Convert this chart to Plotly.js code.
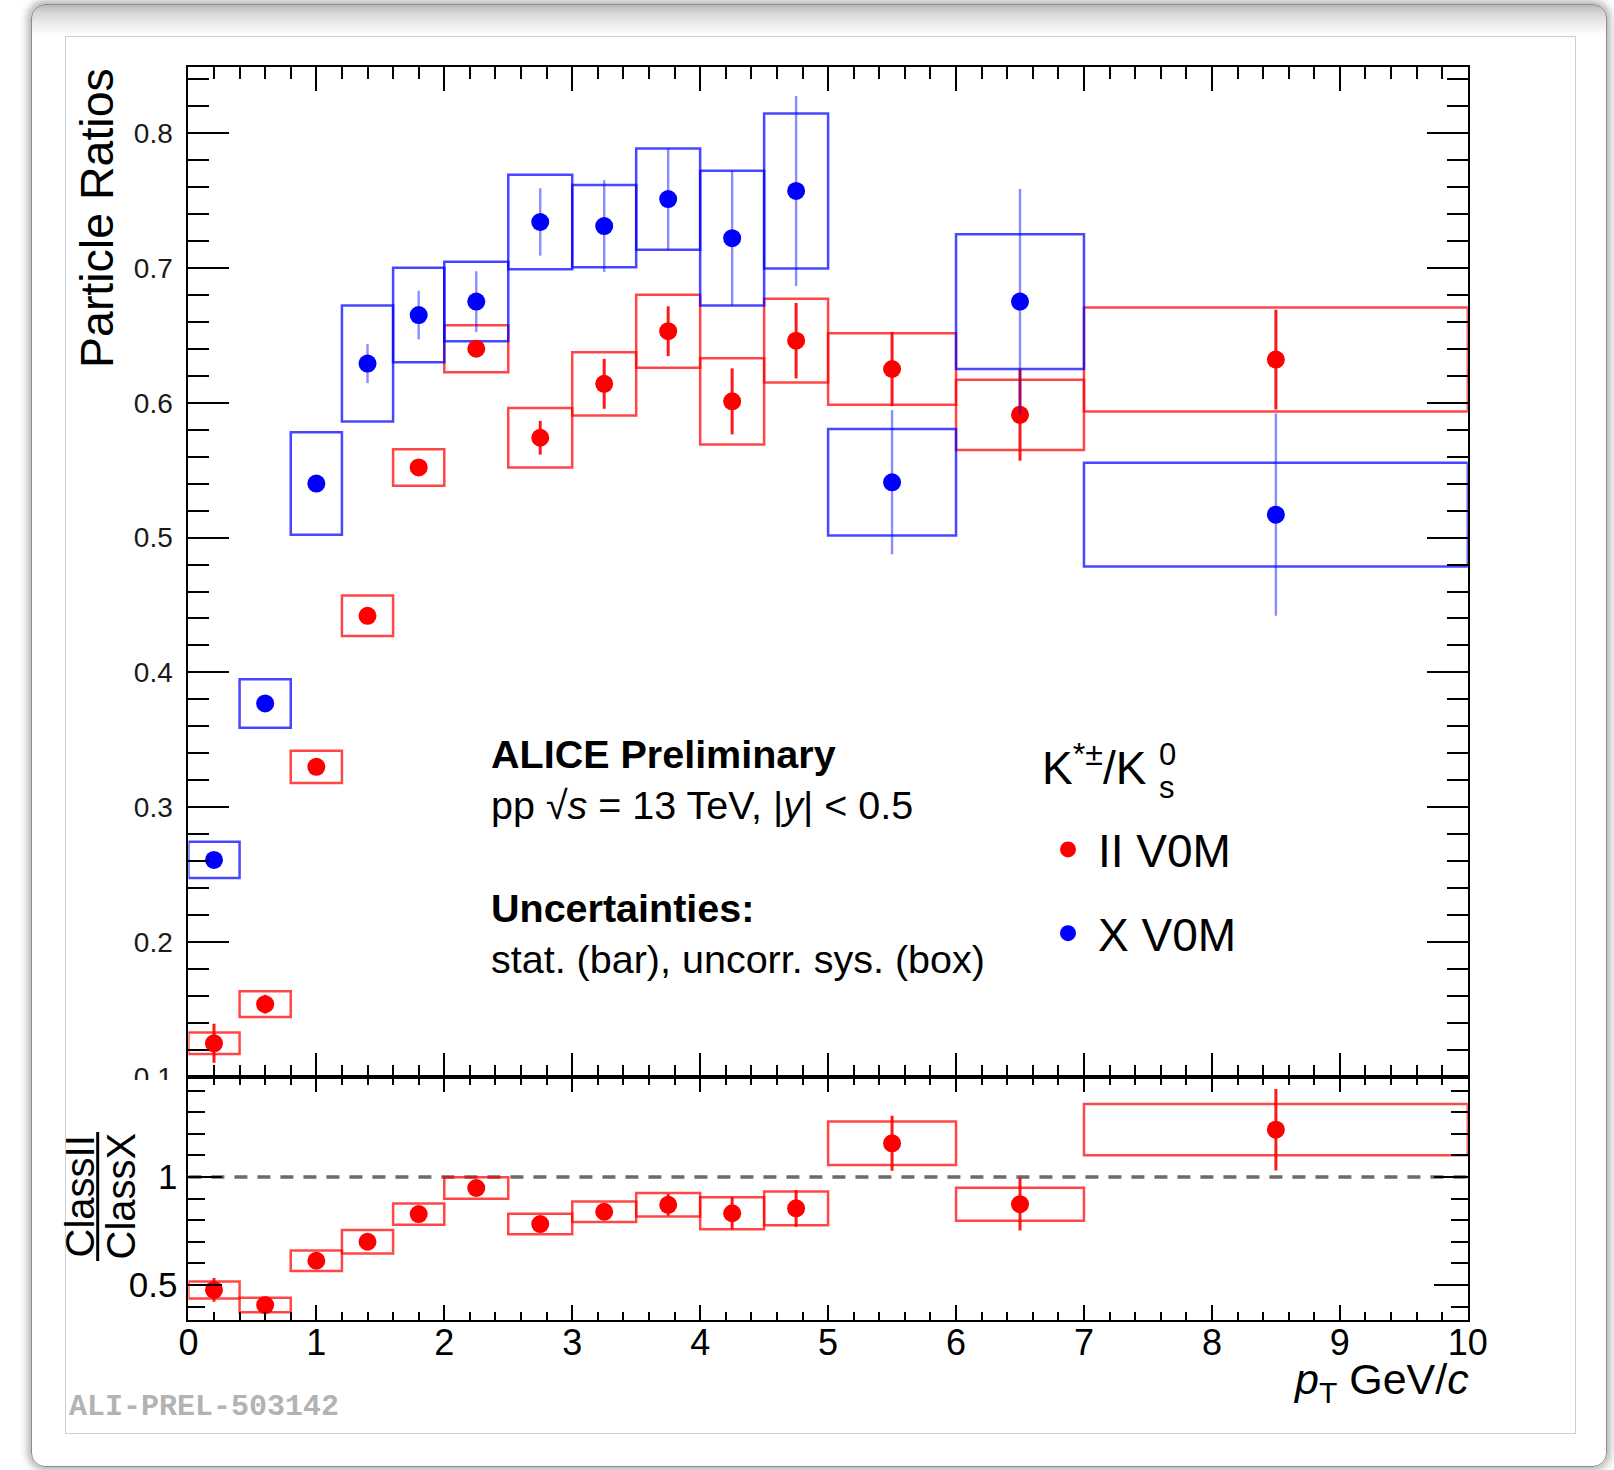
<!DOCTYPE html>
<html>
<head>
<meta charset="utf-8">
<script src="https://cdn.plot.ly/plotly-3.0.1.min.js"></script>
<style>
html,body{margin:0;padding:0;background:#fff;width:1614px;height:1470px;overflow:hidden;}
#win{position:absolute;left:31px;top:4px;width:1576px;height:1463px;border-radius:14px;
  background:linear-gradient(#b8b8b8 0px,#d6d6d6 8px,#ebebeb 18px,#f9f9f9 27px,#ffffff 32px);
  box-shadow:0 0 9px 3px rgba(0,0,0,0.33);border:1px solid #8c8c8c;box-sizing:border-box;}
#inner{position:absolute;left:65px;top:36px;width:1511px;height:1398px;border:1px solid #cfcfcf;box-sizing:border-box;background:#fff;}
#plot{position:absolute;left:0;top:0;width:1614px;height:1470px;}
</style>
</head>
<body>
<div id="win"></div>
<div id="inner"></div>
<div id="plot"></div>
<script>
// ---- data ----
const ptCenter = [0.2, 0.6, 1.0, 1.4, 1.8, 2.25, 2.75, 3.25, 3.75, 4.25, 4.75, 5.5, 6.5, 8.5];
const binLow   = [0.0, 0.4, 0.8, 1.2, 1.6, 2.0, 2.5, 3.0, 3.5, 4.0, 4.5, 5.0, 6.0, 7.0];
const binHigh  = [0.4, 0.8, 1.2, 1.6, 2.0, 2.5, 3.0, 3.5, 4.0, 4.5, 5.0, 6.0, 7.0, 10.0];

// Class II V0M (red)
const valII  = [0.125, 0.154, 0.330, 0.442, 0.552, 0.640, 0.574, 0.614, 0.653, 0.601, 0.646, 0.625, 0.591, 0.632];
const statII = [0.0145, 0.007, 0.004, 0.004, 0.004, 0.005, 0.0125, 0.0185, 0.0185, 0.0245, 0.028, 0.0275, 0.034, 0.037];
const sysII  = [0.008, 0.0095, 0.012, 0.015, 0.0135, 0.0175, 0.022, 0.0235, 0.027, 0.032, 0.031, 0.0265, 0.026, 0.0385];

// Class X V0M (blue)
const valX  = [0.261, 0.377, 0.540, 0.629, 0.665, 0.675, 0.734, 0.731, 0.751, 0.722, 0.757, 0.541, 0.675, 0.517];
const statX = [0.003, 0.003, 0.004, 0.0145, 0.018, 0.0225, 0.025, 0.034, 0.0375, 0.05, 0.0705, 0.0535, 0.0835, 0.075];
const sysX  = [0.0135, 0.018, 0.038, 0.043, 0.035, 0.0295, 0.035, 0.0305, 0.0375, 0.05, 0.0575, 0.0395, 0.05, 0.0385];

// Ratio Class II / Class X
const valR  = [0.477, 0.407, 0.612, 0.700, 0.828, 0.949, 0.782, 0.839, 0.871, 0.832, 0.855, 1.156, 0.874, 1.219];
const statR = [0.055, 0.01, 0.01, 0.01, 0.01, 0.012, 0.015, 0.02, 0.05, 0.075, 0.085, 0.127, 0.122, 0.189];
const sysR  = [0.0395, 0.0335, 0.0475, 0.054, 0.049, 0.05, 0.0475, 0.0475, 0.0545, 0.0745, 0.078, 0.1005, 0.0765, 0.1185];

const refValue = 1;
const xRange = [0, 10];
const yRangeTop = [0.1, 0.849];
const yRangeBot = [0.34, 1.463];
const seriesNames = ['II V0M', 'X V0M'];

// ---- helpers ----
const W = 1614, H = 1470;
const px = X => X / W;
const py = Y => 1 - Y / H;
const widths = binHigh.map((h, i) => h - binLow[i]);

function boxTrace(vals, sys, color, xa, ya) {
  return {
    type: 'bar', x: ptCenter, y: sys.map(s => 2 * s), base: vals.map((v, i) => v - sys[i]),
    width: widths, xaxis: xa, yaxis: ya, showlegend: false, hoverinfo: 'skip',
    marker: {color: 'rgba(0,0,0,0)', line: {color: color, width: 2.5}}
  };
}
function pointTrace(vals, stat, color, statColor, statW, xa, ya, name, show) {
  return {
    type: 'scatter', mode: 'markers', x: ptCenter, y: vals, xaxis: xa, yaxis: ya,
    name: name, showlegend: show, legendgroup: name,
    marker: {color: color, size: 18, line: {width: 0}},
    error_y: {type: 'data', array: stat, visible: true, width: 0, thickness: statW, color: statColor}
  };
}

const RED = '#ff0000', BLUE = '#0000ff';
const traces = [
  boxTrace(valII, sysII, 'rgba(255,0,0,0.72)', 'x', 'y'),
  pointTrace(valII, statII, RED, 'rgba(255,0,0,0.9)', 3, 'x', 'y', seriesNames[0], true),
  boxTrace(valX, sysX, 'rgba(0,0,255,0.72)', 'x', 'y'),
  pointTrace(valX, statX, BLUE, 'rgba(0,0,255,0.45)', 2.4, 'x', 'y', seriesNames[1], true),
  boxTrace(valR, sysR, 'rgba(255,0,0,0.72)', 'x2', 'y2'),
  pointTrace(valR, statR, RED, 'rgba(255,0,0,0.9)', 3, 'x2', 'y2', 'ratio', false)
];

const xDom = [px(188.4), px(1467.8)];
const axCommon = {
  showline: true, linewidth: 2, linecolor: '#000', mirror: 'ticks',
  ticks: 'inside', tickwidth: 2, tickcolor: '#000',
  showgrid: false, zeroline: false, fixedrange: true
};
const FONT = 'Liberation Sans, Arial, Helvetica, sans-serif';

const layout = {
  width: W, height: H, margin: {l: 0, r: 0, t: 0, b: 0},
  paper_bgcolor: 'rgba(0,0,0,0)', plot_bgcolor: 'rgba(0,0,0,0)',
  font: {family: FONT, color: '#000'},
  hovermode: false, barmode: 'overlay', showlegend: true,
  xaxis: Object.assign({}, axCommon, {
    domain: xDom, range: xRange, anchor: 'y', tick0: 0, dtick: 1, ticklen: 24,
    minor: {dtick: 0.2, ticklen: 12, tickwidth: 2, tickcolor: '#000', ticks: 'inside'},
    showticklabels: false
  }),
  yaxis: Object.assign({}, axCommon, {
    domain: [py(1077), py(66.9)], range: yRangeTop, anchor: 'x', tick0: 0, dtick: 0.1, ticklen: 41,
    minor: {dtick: 0.02, ticklen: 21, tickwidth: 2, tickcolor: '#000', ticks: 'inside'},
    tickfont: {size: 28, color: '#1a1a1a'}, ticklabelstandoff: 8
  }),
  xaxis2: Object.assign({}, axCommon, {
    domain: xDom, range: xRange, anchor: 'y2', tick0: 0, dtick: 1, ticklen: 15,
    minor: {dtick: 0.2, ticklen: 8, tickwidth: 2, tickcolor: '#000', ticks: 'inside'},
    tickfont: {size: 36}, ticklabelstandoff: -10
  }),
  yaxis2: Object.assign({}, axCommon, {
    domain: [py(1319.5), py(1077)], range: yRangeBot, anchor: 'x2', tick0: 0, dtick: 0.5, ticklen: 34,
    minor: {dtick: 0.1, ticklen: 17, tickwidth: 2, tickcolor: '#000', ticks: 'inside'},
    tickfont: {size: 35}, ticklabelstandoff: 2
  }),
  legend: {
    x: px(1038), y: py(813), xanchor: 'left', yanchor: 'top',
    bgcolor: 'rgba(0,0,0,0)', borderwidth: 0, font: {size: 46, family: FONT},
    tracegroupgap: 21, itemsizing: 'trace', itemwidth: 50, itemclick: false, itemdoubleclick: false
  },
  shapes: [
    {type: 'line', xref: 'x2', yref: 'y2', x0: binLow[0], x1: binHigh[binHigh.length - 1],
     y0: refValue, y1: refValue, layer: 'below', line: {color: '#6a6a6a', width: 3.5, dash: '13px,10px'}},
    // fraction bar of the ratio axis title
    {type: 'line', xref: 'paper', yref: 'paper', x0: px(97.7), x1: px(97.7), y0: py(1261), y1: py(1132),
     line: {color: '#000', width: 3}},
    // lower pad covering the bottom of the "0.1" label
    {type: 'rect', xref: 'paper', yref: 'paper', x0: px(100), x1: px(186), y0: py(1100), y1: py(1080),
     fillcolor: '#ffffff', line: {width: 0}, layer: 'above'}
  ],
  annotations: [
    {text: 'Particle Ratios', textangle: -90, xref: 'paper', yref: 'paper', x: px(97), y: py(66),
     xanchor: 'center', yanchor: 'top', showarrow: false, font: {size: 46.5}},
    {text: 'ClassII', textangle: -90, xref: 'paper', yref: 'paper', x: px(79), y: py(1196.5),
     xanchor: 'center', yanchor: 'middle', showarrow: false, font: {size: 40}},
    {text: 'ClassX', textangle: -90, xref: 'paper', yref: 'paper', x: px(120), y: py(1196.5),
     xanchor: 'center', yanchor: 'middle', showarrow: false, font: {size: 40}},
    {text: '<i>p</i><sub>T</sub> GeV/<i>c</i>', xref: 'paper', yref: 'paper', x: px(1471), y: py(1353),
     xanchor: 'right', yanchor: 'top', showarrow: false, font: {size: 43}},
    {text: '<b>ALICE Preliminary</b><br>pp √<i>s</i> = 13 TeV, |<i>y</i>| &lt; 0.5<br> <br><b>Uncertainties:</b><br>stat. (bar), uncorr. sys. (box)',
     xref: 'paper', yref: 'paper', x: px(489), y: py(730), xanchor: 'left', yanchor: 'top', align: 'left',
     showarrow: false, font: {size: 39.5}},
    {text: 'K<sup>*±</sup>/K', xref: 'paper', yref: 'paper', x: px(1040), y: py(796),
     xanchor: 'left', yanchor: 'bottom', showarrow: false, font: {size: 46}},
    {text: '0', xref: 'paper', yref: 'paper', x: px(1167), y: py(754),
     xanchor: 'center', yanchor: 'middle', showarrow: false, font: {size: 31}},
    {text: 's', xref: 'paper', yref: 'paper', x: px(1167), y: py(788),
     xanchor: 'center', yanchor: 'middle', showarrow: false, font: {size: 31}},
    {text: '<b>ALI-PREL-503142</b>', xref: 'paper', yref: 'paper', x: px(67), y: py(1407),
     xanchor: 'left', yanchor: 'middle', showarrow: false,
     font: {size: 30, family: 'Liberation Mono, Courier New, monospace', color: '#b3b3b3'}}
  ]
};

Plotly.newPlot('plot', traces, layout, {staticPlot: true, displayModeBar: false});
</script>
</body>
</html>
